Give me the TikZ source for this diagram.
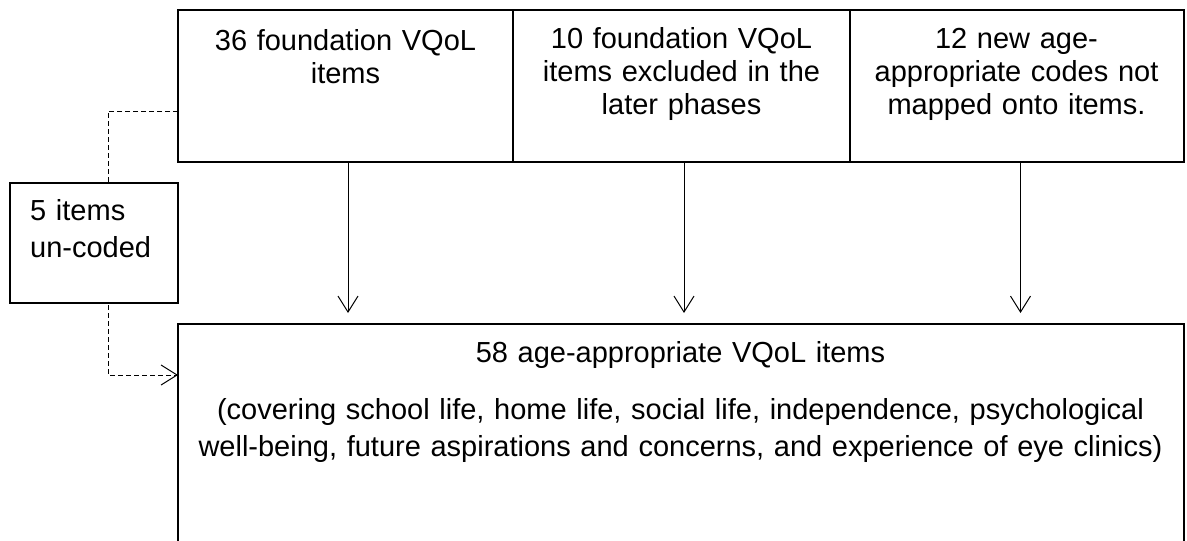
\documentclass[tikz,border=0pt]{standalone}
\usepackage{fontspec}
\setmainfont{Liberation Sans}
\usetikzlibrary{arrows.meta}
\begin{document}
\begin{tikzpicture}[x=1pt,y=-1pt,
  box/.style={draw, line width=2pt, inner sep=0pt, outer sep=0pt, anchor=north west, fill=white},
  txt/.style={inner sep=0pt, anchor=base, align=center, text width=330pt, font=\fontsize{29}{33}\selectfont},
  wtxt/.style={inner sep=0pt, anchor=base west, align=left, text width=150pt, font=\fontsize{29}{37}\selectfont},
  btxt/.style={inner sep=0pt, anchor=base, align=center, text width=1000pt, font=\fontsize{29}{37}\selectfont},
  arr/.style={line width=1pt, -{Straight Barb[length=16pt,width=20pt,line width=1pt]}},
  dsh/.style={line width=1pt, dash pattern=on 5pt off 3pt, -{Straight Barb[length=16pt,width=20pt,line width=1pt]}}]
\clip (0,0) rectangle (1187,541);
\fill[white] (0,0) rectangle (1187,541);
% boxes
\node[box, minimum width=335pt, minimum height=152pt] (b1) at (178,10) {};
\node[box, minimum width=337pt, minimum height=152pt] (b2) at (513,10) {};
\node[box, minimum width=334pt, minimum height=152pt] (b3) at (850,10) {};
\node[box, minimum width=1006pt, minimum height=260pt] (b4) at (178,324) {};
% dashed connector (behind the small box)
\draw[dsh] ([yshift=-25pt]b1.west) -- ++(-70,0) |- ([yshift=-51pt]b4.north west);
\node[box, minimum width=168pt, minimum height=120pt] (b5) at (10,183) {};
% texts
\node[txt] (t1) at (345.5,50) {36 foundation VQoL\\items};
\node[txt] (t2) at (681.5,48) {10 foundation VQoL\\items excluded in the\\later phases};
\node[txt] (t3) at (1016.5,48) {12 new age-\\appropriate codes not\\mapped onto items.};
\node[btxt] (t4) at (680.5,362) {58 age-appropriate VQoL items\\[20pt](covering school life, home life, social life, independence, psychological\\well-being, future aspirations and concerns, and experience of eye clinics)};
\node[wtxt] (t5) at (30,220) {5 items\\un-coded};
% arrows
\draw[arr] ([xshift=2.5pt]b1.south) -- ([xshift=2.5pt,yshift=11pt]b1.south |- b4.north);
\draw[arr] ([xshift=2.5pt]b2.south) -- ([xshift=2.5pt,yshift=11pt]b2.south |- b4.north);
\draw[arr] ([xshift=3.5pt]b3.south) -- ([xshift=3.5pt,yshift=11pt]b3.south |- b4.north);
\end{tikzpicture}
\end{document}
